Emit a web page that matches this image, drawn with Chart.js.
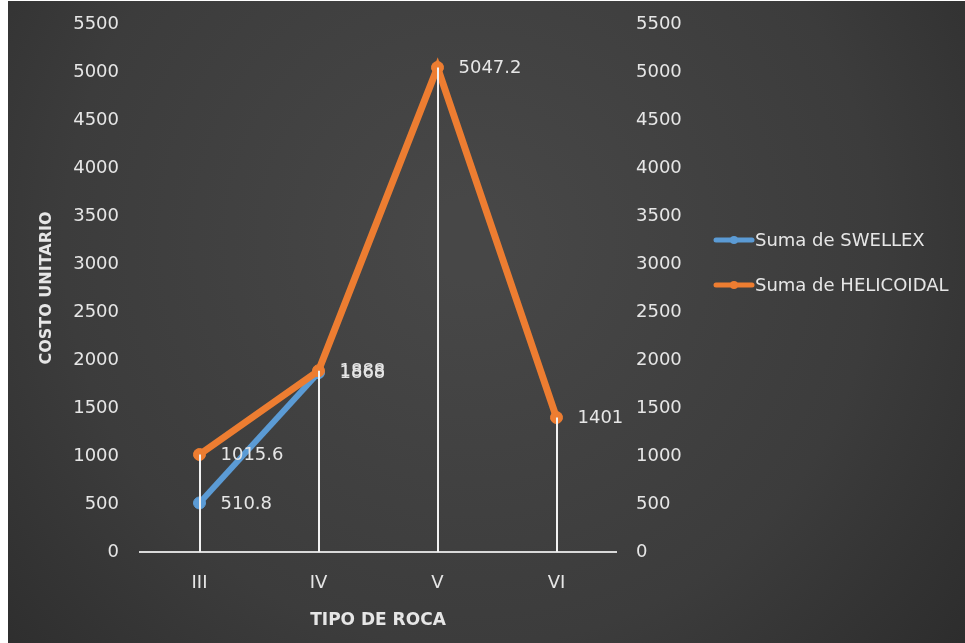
<!DOCTYPE html>
<html>
<head>
<meta charset="utf-8">
<script src="https://cdn.jsdelivr.net/npm/chart.js@4/dist/chart.umd.min.js"></script>
<style>
  html, body { margin: 0; padding: 0; background: #ffffff; }
  #wrap { position: relative; width: 965px; height: 643px; }
  canvas { display: block; }
</style>
</head>
<body>
<div id="wrap"><canvas id="c" width="965" height="643"></canvas></div>
<script>
// Rock types and unit costs per support type
const categories = ['III', 'IV', 'V', 'VI'];
const swellex = [510.8, 1868, null, null];
const helicoidal = [1015.6, 1888, 5047.2, 1401];
const seriesNames = ['Suma de SWELLEX', 'Suma de HELICOIDAL'];
const yTicks = { min: 0, max: 5500, step: 500 };
const xTitle = 'TIPO DE ROCA';
const yTitle = 'COSTO UNITARIO';

const BLUE = '#5b9bd5';
const ORANGE = '#ed7d31';
const TEXT = '#e6e6e6';
const FONT = '"DejaVu Sans", sans-serif';

// Dark panel background with a soft vignette, white margin strip on the left
const backgroundPlugin = {
  id: 'panelBackground',
  beforeDraw(chart) {
    const ctx = chart.ctx;
    const w = chart.width, h = chart.height;
    ctx.save();
    ctx.fillStyle = '#ffffff';
    ctx.fillRect(0, 0, w, h);
    const g = ctx.createRadialGradient(470, 240, 40, 470, 240, 650);
    g.addColorStop(0, '#474747');
    g.addColorStop(0.6, '#3c3c3c');
    g.addColorStop(1, '#2c2c2c');
    ctx.fillStyle = g;
    ctx.fillRect(8, 1, w - 8, h - 1);
    ctx.restore();
  }
};

// Vertical drop lines from the highest point of each category down to the axis
const dropLinesPlugin = {
  id: 'dropLines',
  afterDatasetsDraw(chart) {
    const ctx = chart.ctx;
    const x = chart.scales.x, y = chart.scales.y;
    ctx.save();
    ctx.strokeStyle = '#f2f2f2';
    ctx.lineWidth = 2;
    categories.forEach((c, i) => {
      const vals = chart.data.datasets.map(d => d.data[i]).filter(v => v != null);
      if (!vals.length) return;
      const top = Math.max(...vals);
      const px = Math.round(x.getPixelForValue(i));
      ctx.beginPath();
      ctx.moveTo(px, y.getPixelForValue(top));
      ctx.lineTo(px, y.getPixelForValue(0));
      ctx.stroke();
    });
    ctx.restore();
  }
};

// Value labels to the right of each point
const valueLabelsPlugin = {
  id: 'valueLabels',
  afterDatasetsDraw(chart) {
    const ctx = chart.ctx;
    ctx.save();
    ctx.fillStyle = TEXT;
    ctx.font = '18px ' + FONT;
    ctx.textAlign = 'left';
    ctx.textBaseline = 'middle';
    chart.data.datasets.forEach((ds, di) => {
      const meta = chart.getDatasetMeta(di);
      meta.data.forEach((pt, i) => {
        const v = ds.data[i];
        if (v == null) return;
        ctx.fillText(String(v), pt.x + 21, pt.y + 1);
      });
    });
    ctx.restore();
  }
};

// Legend on the right side: line sample with marker, then the series name
const legendPlugin = {
  id: 'sideLegend',
  afterDraw(chart) {
    const ctx = chart.ctx;
    const entries = chart.data.datasets
      .map(d => ({ label: d.label, color: d.borderColor, idx: d.legendIndex }))
      .sort((a, b) => a.idx - b.idx);
    ctx.save();
    ctx.font = '18px ' + FONT;
    ctx.textBaseline = 'middle';
    ctx.textAlign = 'left';
    entries.forEach((e, k) => {
      const yy = 240 + k * 45;
      ctx.strokeStyle = e.color;
      ctx.lineWidth = 5;
      ctx.lineCap = 'round';
      ctx.beginPath();
      ctx.moveTo(716, yy);
      ctx.lineTo(752, yy);
      ctx.stroke();
      ctx.fillStyle = e.color;
      ctx.beginPath();
      ctx.arc(734, yy, 4, 0, Math.PI * 2);
      ctx.fill();
      ctx.fillStyle = TEXT;
      ctx.fillText(e.label, 755, yy + 1);
    });
    ctx.restore();
  }
};

const tickFont = { family: FONT, size: 18 };
const plainNumber = v => String(v);

// Fixed axis widths; drop the extra top/bottom padding that tick padding would add
function fixVertical(width) {
  return scale => {
    scale.width = width;
    scale.paddingTop = 0;
    scale.paddingBottom = 0;
  };
}

new Chart(document.getElementById('c'), {
  type: 'line',
  data: {
    labels: categories,
    datasets: [
      {
        label: seriesNames[1],
        legendIndex: 1,
        data: helicoidal,
        borderColor: ORANGE,
        backgroundColor: ORANGE,
        pointBackgroundColor: ORANGE,
        pointBorderColor: ORANGE,
        borderWidth: 7,
        pointRadius: 6,
        pointBorderWidth: 1,
        tension: 0,
        order: 0,
        yAxisID: 'y'
      },
      {
        label: seriesNames[0],
        legendIndex: 0,
        data: swellex,
        borderColor: BLUE,
        backgroundColor: BLUE,
        pointBackgroundColor: BLUE,
        pointBorderColor: BLUE,
        borderWidth: 6,
        pointRadius: 6,
        pointBorderWidth: 1,
        tension: 0,
        spanGaps: false,
        order: 1,
        yAxisID: 'y'
      }
    ]
  },
  options: {
    responsive: false,
    animation: false,
    devicePixelRatio: 1,
    layout: { padding: { left: 8, right: 269, top: 24, bottom: 0 } },
    plugins: {
      legend: { display: false },
      tooltip: { enabled: false }
    },
    scales: {
      x: {
        type: 'category',
        offset: true,
        grid: { display: false, drawTicks: false },
        border: { display: true, color: '#d9d9d9', width: 2 },
        ticks: { color: TEXT, font: tickFont, padding: 21, maxRotation: 0 },
        title: {
          display: true,
          text: xTitle,
          color: TEXT,
          font: { family: FONT, size: 17, weight: 'bold' },
          padding: { top: 0, bottom: 12 }
        },
        afterFit(scale) { scale.height = 91; }
      },
      y: {
        position: 'left',
        min: yTicks.min,
        max: yTicks.max,
        grid: { display: false, drawTicks: false },
        border: { display: false },
        ticks: { stepSize: yTicks.step, color: TEXT, font: tickFont, padding: 21, callback: plainNumber },
        title: {
          display: true,
          text: yTitle,
          color: TEXT,
          font: { family: FONT, size: 16, weight: 'bold' },
          padding: { top: 29, bottom: 0 }
        },
        afterFit: fixVertical(132)
      },
      y2: {
        position: 'right',
        min: yTicks.min,
        max: yTicks.max,
        grid: { display: false, drawTicks: false },
        border: { display: false },
        ticks: { stepSize: yTicks.step, color: TEXT, font: tickFont, padding: 20, callback: plainNumber },
        afterFit: fixVertical(80)
      }
    }
  },
  plugins: [backgroundPlugin, dropLinesPlugin, valueLabelsPlugin, legendPlugin]
});
</script>
</body>
</html>
